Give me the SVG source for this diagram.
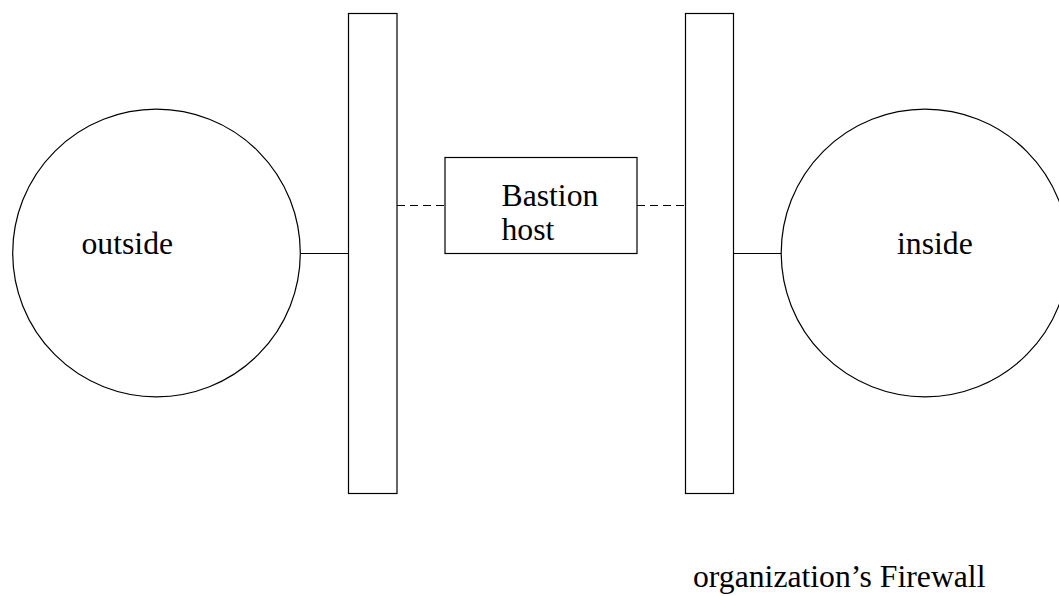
<svg xmlns="http://www.w3.org/2000/svg" width="1059" height="596" viewBox="0 0 1059 596">
  <style>
    .shape { fill: #ffffff; stroke: #000000; stroke-width: 1.2; }
    .link { stroke: #000000; stroke-width: 1.2; fill: none; }
    .dash { stroke-dasharray: 8 5; }
    .label { font-family: "Liberation Serif", "Times New Roman", serif; font-size: 31.7px; fill: #000000; }
  </style>
  <rect width="1059" height="596" fill="#ffffff"/>

  <!-- connectors -->
  <g id="connectors">
    <line class="link" x1="300.5" y1="253.5" x2="348.5" y2="253.5"/>
    <line class="link dash" x1="397" y1="205.5" x2="445" y2="205.5"/>
    <line class="link dash" x1="637" y1="205.5" x2="685.5" y2="205.5"/>
    <line class="link" x1="733.5" y1="253.5" x2="781" y2="253.5"/>
  </g>

  <!-- outside network -->
  <g id="outside">
    <circle class="shape" cx="156.5" cy="253" r="143.8"/>
    <text class="label" x="81.5" y="254.3">outside</text>
  </g>

  <!-- outer filter bar -->
  <g id="wall-left">
    <rect class="shape" x="348.5" y="13.5" width="48.5" height="480"/>
  </g>

  <!-- bastion host -->
  <g id="bastion">
    <rect class="shape" x="445" y="157.5" width="192" height="96"/>
    <text class="label" x="501.5" y="205.5">Bastion</text>
    <text class="label" x="501.5" y="240">host</text>
  </g>

  <!-- inner filter bar -->
  <g id="wall-right">
    <rect class="shape" x="685.5" y="13.5" width="48" height="480"/>
  </g>

  <!-- inside network -->
  <g id="inside">
    <circle class="shape" cx="925" cy="253" r="143.8"/>
    <text class="label" x="897" y="254.3">inside</text>
  </g>

  <!-- caption -->
  <g id="caption">
    <text class="label" x="693" y="587.3">organization’s Firewall</text>
  </g>
</svg>
